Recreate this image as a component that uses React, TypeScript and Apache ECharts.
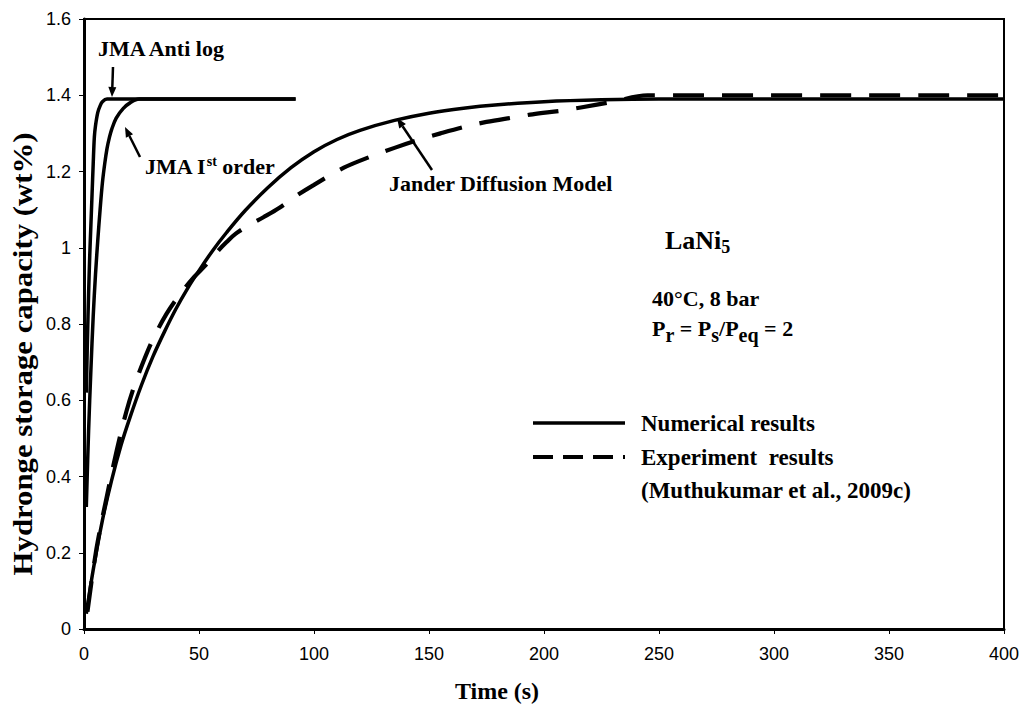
import React, { useEffect, useRef } from "react";
import * as echarts from "echarts";

// ---- data (time s, capacity wt%) ----
const xTicks = [0, 50, 100, 150, 200, 250, 300, 350, 400];
const yTicks = [0, 0.2, 0.4, 0.6, 0.8, 1, 1.2, 1.4, 1.6];

const jmaAntiLog: [number, number][] = [
  [1, 0.62], [1.5, 0.76], [2, 0.88], [2.5, 0.98], [3, 1.06], [3.5, 1.14], [4, 1.22],
  [4.5, 1.29], [5, 1.32], [6, 1.355], [7, 1.372], [8, 1.383], [10, 1.39], [92, 1.39],
];

const jmaFirstOrder: [number, number][] = [
  [1, 0.32], [2, 0.52], [3, 0.68], [4, 0.82], [5, 0.93], [6, 1.02], [7, 1.1], [8, 1.17],
  [9, 1.22], [10, 1.26], [11, 1.288], [12, 1.31], [14, 1.34], [17, 1.365], [20, 1.38],
  [24, 1.39], [92, 1.39],
];

const janderModel: [number, number][] = [
  [1, 0.04], [4, 0.155], [8, 0.285], [12, 0.39], [16, 0.48], [20, 0.555], [25, 0.64],
  [30, 0.715], [35, 0.78], [40, 0.84], [45, 0.893], [50, 0.94], [56, 0.993], [62, 1.04],
  [70, 1.097], [80, 1.158], [90, 1.21], [100, 1.252], [110, 1.284], [120, 1.308],
  [135, 1.334], [150, 1.353], [165, 1.366], [180, 1.375], [200, 1.383], [225, 1.388],
  [250, 1.39], [400, 1.39],
];

const experiment: [number, number][] = [
  [1.5, 0.045], [5.4, 0.21], [10, 0.35], [14.3, 0.47], [18.4, 0.57], [22, 0.64],
  [26.4, 0.71], [30, 0.76], [35.8, 0.826], [42, 0.88], [48, 0.924], [53, 0.955],
  [58, 0.99], [62, 1.015], [66, 1.037], [72, 1.06], [78, 1.08], [85, 1.105], [92, 1.135],
  [100, 1.165], [113, 1.21], [125, 1.24], [135, 1.262], [146, 1.284], [155, 1.3],
  [166, 1.318], [175, 1.33], [187, 1.342], [195, 1.35], [208, 1.36], [216, 1.368],
  [230, 1.383], [245, 1.4], [400, 1.4],
];

const SERIF = "'Liberation Serif', 'Times New Roman', serif";
const SANS = "'Liberation Sans', Arial, sans-serif";

function arrow(x1: number, y1: number, x2: number, y2: number) {
  const dx = x2 - x1;
  const dy = y2 - y1;
  const len = Math.sqrt(dx * dx + dy * dy);
  const ux = dx / len;
  const uy = dy / len;
  const hl = 10;
  const hw = 4;
  const bx = x2 - ux * hl;
  const by = y2 - uy * hl;
  return {
    type: "group",
    children: [
      {
        type: "line",
        shape: { x1, y1, x2: bx, y2: by },
        style: { stroke: "#000", lineWidth: 2.5 },
      },
      {
        type: "polygon",
        shape: {
          points: [
            [x2, y2],
            [bx - uy * hw, by + ux * hw],
            [bx + uy * hw, by - ux * hw],
          ],
        },
        style: { fill: "#000" },
      },
    ],
  };
}

function label(text: string, x: number, y: number, size: number, rich?: any) {
  return {
    type: "text",
    x,
    y,
    style: {
      text,
      fill: "#000",
      fontFamily: SERIF,
      fontWeight: "bold",
      fontSize: size,
      verticalAlign: "middle",
      align: "left",
      rich,
    },
  };
}

export default function App() {
  const ref = useRef<HTMLDivElement>(null);
  useEffect(() => {
    const chart = echarts.init(ref.current!, null, { renderer: "svg" });
    const lineBase = {
      type: "line",
      showSymbol: false,
      symbol: "none",
      smooth: 0.35,
      silent: true,
    };
    chart.setOption({
      animation: false,
      backgroundColor: "#fff",
      grid: {
        left: 84,
        top: 19,
        right: 20,
        bottom: 77,
        show: true,
        borderColor: "#000",
        borderWidth: 2,
        containLabel: false,
      },
      xAxis: {
        type: "value",
        min: xTicks[0],
        max: xTicks[xTicks.length - 1],
        interval: 50,
        axisLine: { show: true, onZero: false, lineStyle: { color: "#000", width: 3 } },
        axisTick: { show: true, inside: false, length: 5, lineStyle: { color: "#000", width: 1 } },
        axisLabel: { color: "#000", fontFamily: SANS, fontSize: 18, margin: 16 },
        splitLine: { show: false },
      },
      yAxis: {
        type: "value",
        min: yTicks[0],
        max: yTicks[yTicks.length - 1],
        interval: 0.2,
        axisLine: { show: true, onZero: false, lineStyle: { color: "#000", width: 3 } },
        axisTick: { show: true, inside: false, length: 5, lineStyle: { color: "#000", width: 1 } },
        axisLabel: { color: "#000", fontFamily: SANS, fontSize: 18, margin: 13 },
        splitLine: { show: false },
      },
      series: [
        { ...lineBase, name: "JMA Anti log", data: jmaAntiLog, lineStyle: { color: "#000", width: 3.5 } },
        { ...lineBase, name: "JMA Ist order", data: jmaFirstOrder, lineStyle: { color: "#000", width: 3.5 } },
        { ...lineBase, name: "Jander Diffusion Model", data: janderModel, lineStyle: { color: "#000", width: 3.5 } },
        {
          ...lineBase,
          name: "Experiment results",
          data: experiment,
          lineStyle: { color: "#000", width: 4.2, type: [31, 18] },
        },
      ],
      graphic: [
        // axis titles
        {
          type: "text",
          x: 497,
          y: 691,
          style: {
            text: "Time (s)",
            fill: "#000",
            fontFamily: SERIF,
            fontWeight: "bold",
            fontSize: 24,
            align: "center",
            verticalAlign: "middle",
          },
        },
        {
          type: "text",
          x: 23,
          y: 354,
          rotation: Math.PI / 2,
          scaleX: 1.14,
          style: {
            text: "Hydronge storage capacity (wt%)",
            fill: "#000",
            fontFamily: SERIF,
            fontWeight: "bold",
            fontSize: 27,
            align: "center",
            verticalAlign: "middle",
          },
        },
        // annotations
        label("JMA Anti log", 98, 48, 22),
        arrow(113, 67, 112, 97),
        label("JMA I{sup|st} order", 145, 166, 22, {
          sup: { fontFamily: SERIF, fontWeight: "bold", fontSize: 14, padding: [0, 0, 9, 0] },
        }),
        arrow(140, 157, 125, 127),
        label("Jander Diffusion Model", 389, 183, 22),
        arrow(432, 170, 397, 118),
        // conditions
        label("LaNi{sub|5}", 665, 240, 26, {
          sub: { fontFamily: SERIF, fontWeight: "bold", fontSize: 18, padding: [14, 0, 0, 0] },
        }),
        label("40°C, 8 bar", 652, 298, 22),
        label("P{sub|r} = P{sub|s}/P{sub|eq} = 2", 652, 328, 22, {
          sub: { fontFamily: SERIF, fontWeight: "bold", fontSize: 20, padding: [14, 0, 0, 0] },
        }),
        // legend
        {
          type: "line",
          shape: { x1: 533, y1: 423, x2: 625, y2: 423 },
          style: { stroke: "#000", lineWidth: 3.5 },
        },
        label("Numerical results", 641, 423, 23),
        {
          type: "line",
          shape: { x1: 533, y1: 457, x2: 625, y2: 457 },
          style: { stroke: "#000", lineWidth: 4, lineDash: [20, 10] },
        },
        label("Experiment  results", 641, 457, 23),
        label("(Muthukumar et al., 2009c)", 641, 490, 23),
      ],
    });
    return () => chart.dispose();
  }, []);
  return (
    <div
      ref={ref}
      style={{ position: "absolute", left: 0, top: 0, width: 1024, height: 706, background: "#fff" }}
    />
  );
}
